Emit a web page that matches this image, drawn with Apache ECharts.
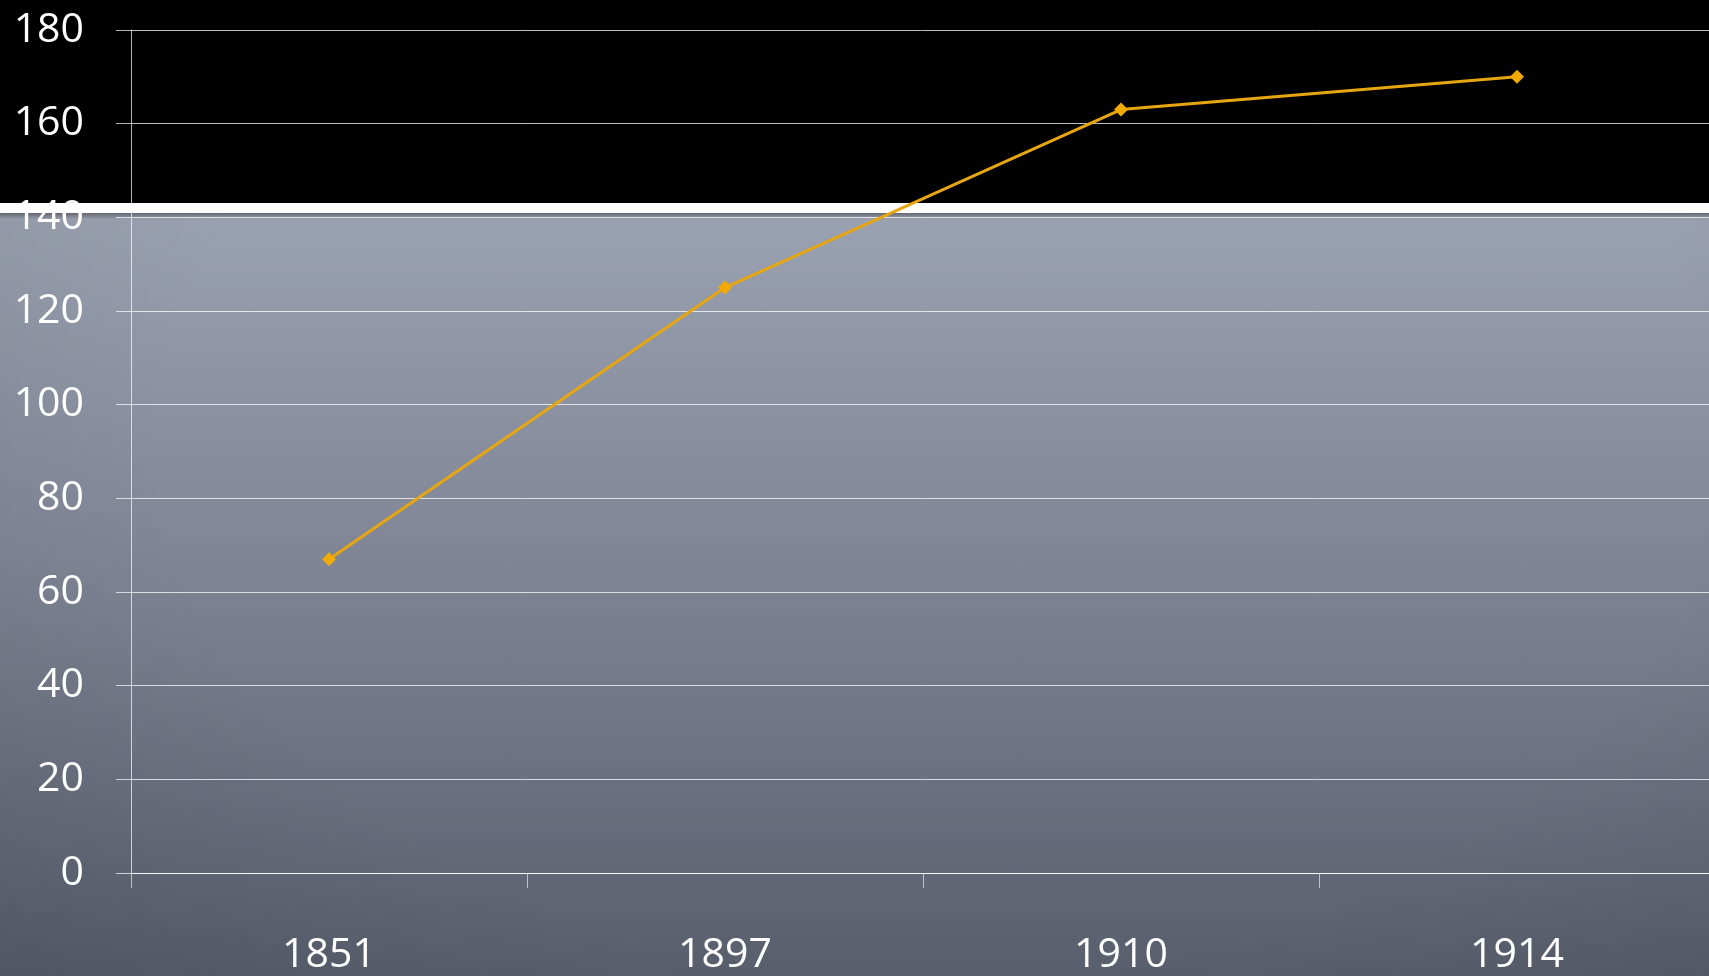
<!DOCTYPE html>
<html>
<head>
<meta charset="utf-8">
<script src="https://cdn.jsdelivr.net/npm/echarts@6/dist/echarts.min.js"></script>
<style>
  html, body { margin: 0; padding: 0; width: 100%; height: 100%; overflow: hidden; }
  body {
    background:
      linear-gradient(to bottom, #000 0px, #000 203px, #fff 203px, #fff 213px, rgba(0,0,0,0) 213px),
      linear-gradient(to bottom, rgba(0,0,0,0.35) 213px, rgba(0,0,0,0) 219px),
      radial-gradient(ellipse 75% 90% at 55% 45%, rgba(0,0,0,0) 60%, rgba(0,0,0,0.10) 100%),
      linear-gradient(to bottom, #9aa1b0 213px, #7f8595 560px, #585e6c 976px);
  }
  #chart { width: 1709px; height: 976px; }
</style>
</head>
<body>
<div id="chart"></div>
<script>
const years = ['1851', '1897', '1910', '1914']
const values = [67, 125, 163, 170]
const yTicks = { min: 0, max: 180, interval: 20 }

const chart = echarts.init(document.getElementById('chart'), null, { renderer: 'canvas' })

const labelFont = '"Open Sans", "Noto Sans", sans-serif'

chart.setOption({
  backgroundColor: 'transparent',
  animation: false,
  grid: {
    left: 131,
    width: 1584,
    top: 30,
    bottom: 103,
    outerBoundsMode: 'none',
    containLabel: false
  },
  xAxis: {
    type: 'category',
    data: years,
    boundaryGap: true,
    axisLine: { lineStyle: { color: 'rgba(255,255,255,0.8)', width: 1 } },
    axisTick: { show: true, length: 15, lineStyle: { color: 'rgba(255,255,255,0.6)' } },
    axisLabel: {
      color: '#fff',
      fontSize: 41,
      fontFamily: labelFont,
      margin: 62
    },
    splitLine: { show: false }
  },
  yAxis: {
    type: 'value',
    min: yTicks.min,
    max: yTicks.max,
    interval: yTicks.interval,
    axisLine: { show: true, lineStyle: { color: 'rgba(255,255,255,0.7)', width: 1 } },
    axisTick: { show: true, length: 15, lineStyle: { color: 'rgba(255,255,255,0.7)' } },
    axisLabel: {
      color: '#fff',
      fontSize: 41,
      fontFamily: labelFont,
      margin: 47,
      padding: [10, 0, 0, 0]
    },
    splitLine: { show: true, lineStyle: { color: 'rgba(255,255,255,0.75)', width: 1 } }
  },
  series: [
    {
      type: 'line',
      data: values,
      symbol: 'diamond',
      symbolSize: 14,
      lineStyle: { color: '#e6a612', width: 3 },
      itemStyle: { color: '#f0aa00' }
    }
  ]
})
</script>
</body>
</html>
